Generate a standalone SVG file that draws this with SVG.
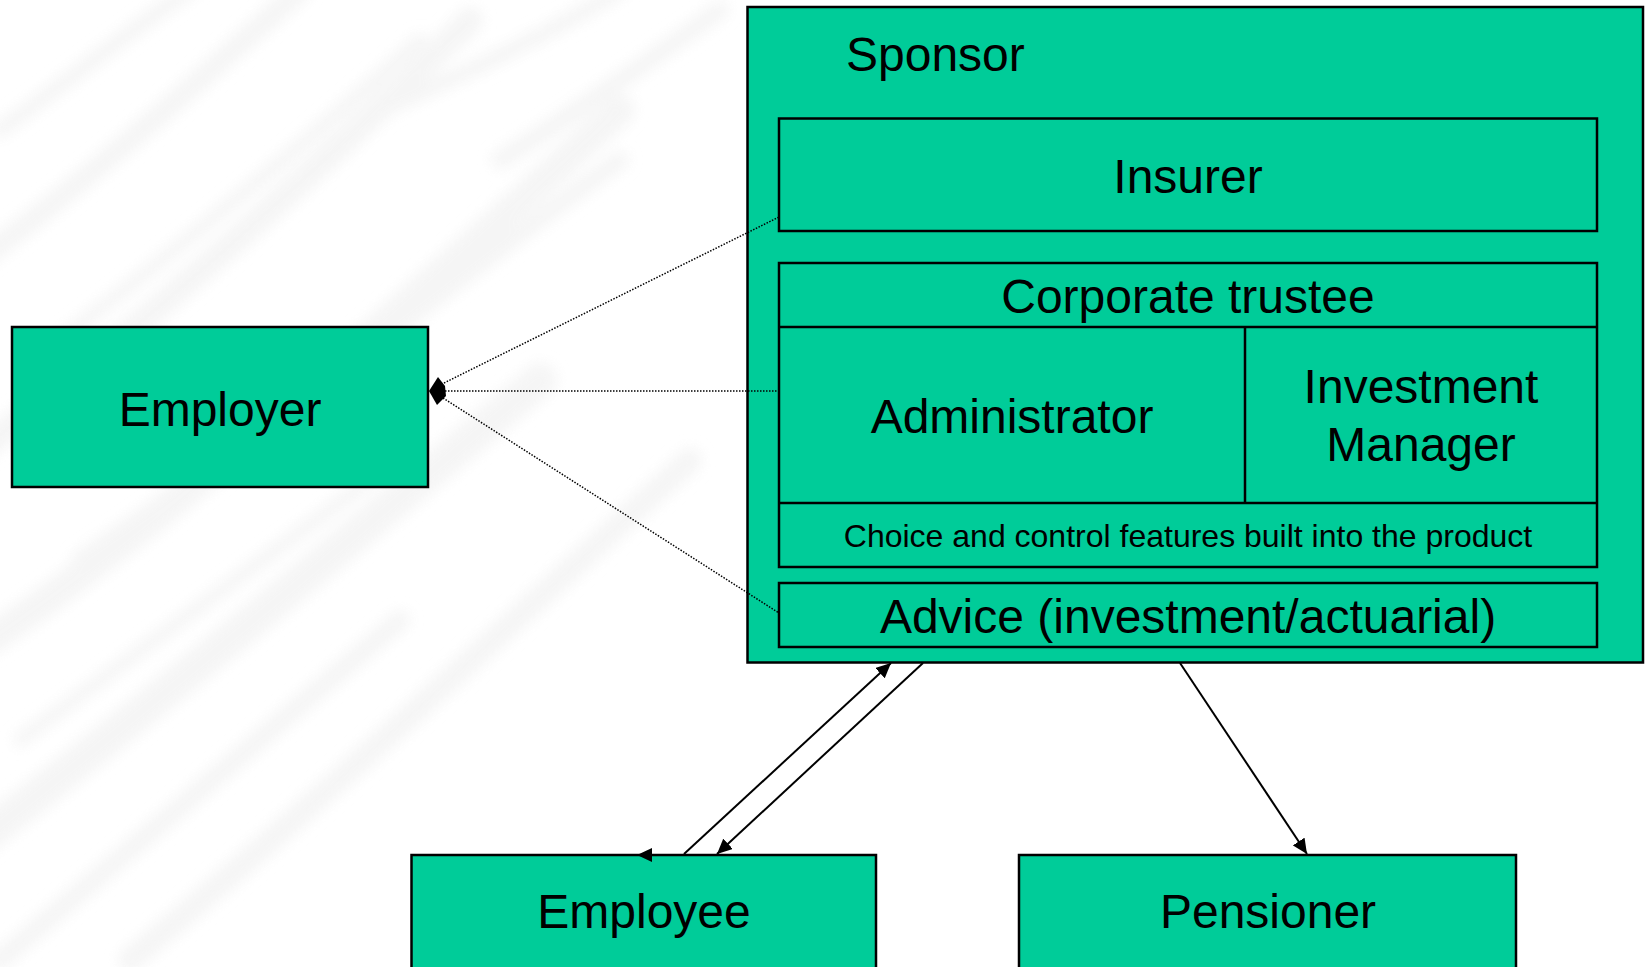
<svg xmlns="http://www.w3.org/2000/svg" width="1646" height="967" viewBox="0 0 1646 967">
  <defs>
    <style>
      .box { fill: #00CC99; stroke: #000; stroke-width: 2.5; }
      .div { fill: none; stroke: #000; stroke-width: 2.5; }
      .lbl { font-family: "Liberation Sans", Arial, sans-serif; font-size: 48px; fill: #000; text-anchor: middle; }
      .small { font-size: 32px; }
      .dot { fill: none; stroke: #000; stroke-width: 1.5; stroke-dasharray: 1.5 1.5; }
      .arr { fill: none; stroke: #000; stroke-width: 2; }
      .streak { fill: none; stroke: #f3f3f3; stroke-linecap: round; }
    </style>
    <marker id="ah" markerUnits="userSpaceOnUse" markerWidth="16" markerHeight="14" refX="15" refY="7" orient="auto">
      <path d="M0,0 L15,7 L0,14 Z" fill="#000"/>
    </marker>
    <filter id="blur" x="-20%" y="-20%" width="140%" height="140%">
      <feGaussianBlur stdDeviation="7"/>
    </filter>
  </defs>

  <rect width="1646" height="967" fill="#fff"/>

  <g id="background" filter="url(#blur)" opacity="0.8">
    <path class="streak" stroke-width="22" d="M-20,260 C100,170 200,80 300,-10"/>
    <path class="streak" stroke-width="16" d="M0,130 C70,80 130,30 190,-10"/>
    <path class="streak" stroke-width="26" d="M-20,450 C140,330 320,170 470,20"/>
    <path class="streak" stroke-width="14" d="M60,340 C190,240 320,130 420,40"/>
    <path class="streak" stroke-width="30" d="M-10,640 C180,510 380,330 620,110"/>
    <path class="streak" stroke-width="18" d="M80,560 C260,440 440,290 620,160"/>
    <path class="streak" stroke-width="34" d="M-20,840 C160,700 350,540 540,380"/>
    <path class="streak" stroke-width="20" d="M0,960 C130,850 260,740 400,620"/>
    <path class="streak" stroke-width="24" d="M130,960 C300,820 470,660 690,460"/>
    <path class="streak" stroke-width="16" d="M360,120 C450,80 540,40 620,-10"/>
    <path class="streak" stroke-width="18" d="M500,160 C580,110 650,60 720,10"/>
    <path class="streak" stroke-width="14" d="M20,740 C140,650 250,570 370,480"/>
  </g>

  <g id="sponsor">
    <rect class="box" x="747.5" y="7" width="895.5" height="655.5"/>
    <text class="lbl" x="846" y="71" style="text-anchor:start">Sponsor</text>
  </g>

  <g id="insurer">
    <rect class="box" x="779" y="118.5" width="818" height="112.5"/>
    <text class="lbl" x="1188" y="193">Insurer</text>
  </g>

  <g id="corporate-trustee">
    <rect class="box" x="779" y="263" width="818" height="304"/>
    <line class="div" x1="779" y1="327" x2="1597" y2="327"/>
    <line class="div" x1="779" y1="503" x2="1597" y2="503"/>
    <text class="lbl" x="1188" y="313">Corporate trustee</text>
  </g>

  <g id="administrator">
    <line class="div" x1="1245" y1="327" x2="1245" y2="503"/>
    <text class="lbl" x="1012" y="433">Administrator</text>
  </g>

  <g id="investment-manager">
    <text class="lbl" x="1421" y="403">Investment</text>
    <text class="lbl" x="1421" y="461">Manager</text>
  </g>

  <g id="choice">
    <text class="lbl small" x="1188" y="547">Choice and control features built into the product</text>
  </g>

  <g id="advice">
    <rect class="box" x="779" y="583" width="818" height="64"/>
    <text class="lbl" x="1188" y="633">Advice (investment/actuarial)</text>
  </g>

  <g id="employer">
    <rect class="box" x="12" y="327" width="416" height="160"/>
    <text class="lbl" x="220" y="426">Employer</text>
  </g>

  <g id="employee">
    <rect class="box" x="411.5" y="855" width="464.5" height="115"/>
    <text class="lbl" x="644" y="928">Employee</text>
  </g>

  <g id="pensioner">
    <rect class="box" x="1019" y="855" width="497" height="115"/>
    <text class="lbl" x="1268" y="928">Pensioner</text>
  </g>

  <g id="connectors">
    <line class="dot" x1="444" y1="383" x2="779" y2="217"/>
    <line class="dot" x1="445" y1="391" x2="779" y2="391"/>
    <line class="dot" x1="443" y1="398" x2="779" y2="613"/>
    <polygon points="429,391 438,377 445,386 446,396 437,405" fill="#000"/>
    <line class="arr" x1="684" y1="854" x2="891" y2="663" marker-end="url(#ah)"/>
    <line class="arr" x1="923" y1="663" x2="717" y2="854" marker-end="url(#ah)"/>
    <line class="arr" x1="653" y1="855" x2="637" y2="855" stroke-width="0.5" marker-end="url(#ah)"/>
    <line class="arr" x1="1180" y1="663" x2="1307" y2="854" marker-end="url(#ah)"/>
  </g>
</svg>
